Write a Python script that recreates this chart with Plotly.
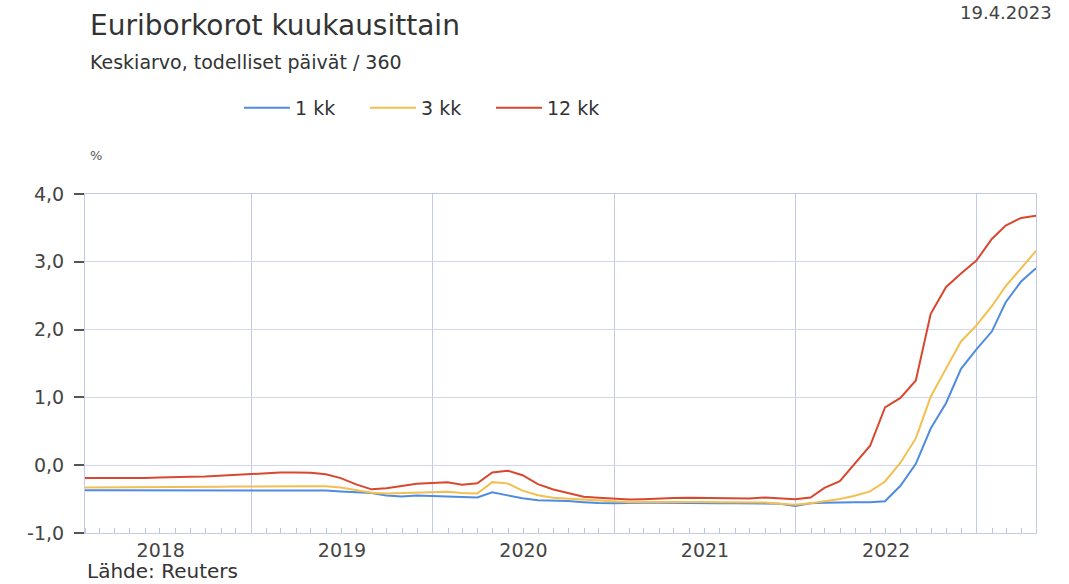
import pandas as pd
import plotly.graph_objects as go

# Monthly averages, Jan 2018 ... Apr 2023 (plotted at month end)
months = pd.date_range("2018-01-31", periods=64, freq="ME")

series_names = ["1 kk", "3 kk", "12 kk"]

euribor_1kk = [
    -0.369, -0.369, -0.370, -0.370, -0.370, -0.370, -0.370, -0.370, -0.370, -0.370, -0.370, -0.367,
    -0.368, -0.368, -0.367, -0.369, -0.373, -0.387, -0.402, -0.409, -0.448, -0.461, -0.448, -0.452,
    -0.456, -0.470, -0.477, -0.401, -0.445, -0.487, -0.517, -0.520, -0.528, -0.545, -0.558, -0.560,
    -0.562, -0.554, -0.553, -0.557, -0.560, -0.556, -0.560, -0.560, -0.561, -0.556, -0.567, -0.600,
    -0.560, -0.554, -0.546, -0.546, -0.546, -0.531, -0.303, 0.021, 0.541, 0.918, 1.422, 1.707,
    1.971, 2.404, 2.711, 2.905,
]
euribor_3kk = [
    -0.328, -0.328, -0.328, -0.328, -0.325, -0.322, -0.321, -0.319, -0.319, -0.318, -0.316, -0.312,
    -0.308, -0.308, -0.309, -0.310, -0.312, -0.330, -0.365, -0.408, -0.418, -0.413, -0.401, -0.395,
    -0.391, -0.409, -0.417, -0.250, -0.268, -0.376, -0.444, -0.480, -0.492, -0.509, -0.521, -0.538,
    -0.547, -0.541, -0.539, -0.538, -0.540, -0.543, -0.545, -0.548, -0.545, -0.550, -0.567, -0.583,
    -0.560, -0.531, -0.500, -0.450, -0.386, -0.240, 0.037, 0.395, 1.011, 1.428, 1.825, 2.063,
    2.345, 2.640, 2.911, 3.160,
]
euribor_12kk = [
    -0.189, -0.191, -0.191, -0.190, -0.188, -0.181, -0.180, -0.169, -0.166, -0.154, -0.147, -0.129,
    -0.116, -0.108, -0.109, -0.112, -0.134, -0.190, -0.283, -0.356, -0.339, -0.304, -0.272, -0.261,
    -0.253, -0.288, -0.266, -0.108, -0.081, -0.147, -0.279, -0.359, -0.415, -0.466, -0.481, -0.497,
    -0.505, -0.501, -0.487, -0.484, -0.481, -0.484, -0.491, -0.498, -0.492, -0.477, -0.487, -0.502,
    -0.477, -0.335, -0.237, 0.013, 0.287, 0.852, 0.992, 1.249, 2.233, 2.629, 2.828, 3.018,
    3.337, 3.534, 3.647, 3.680,
]
series_values = [euribor_1kk, euribor_3kk, euribor_12kk]
series_colors = ["#4f8be0", "#f3bf4f", "#d9472f"]

y_tick_values = [-1, 0, 1, 2, 3, 4]
y_tick_labels = ["-1,0", "0,0", "1,0", "2,0", "3,0", "4,0"]

W, H = 1069, 584
L, R, T, B = 85, 1036, 194, 533
FONT = "DejaVu Sans"

fig = go.Figure()
for name, vals, col in zip(series_names, series_values, series_colors):
    fig.add_trace(go.Scatter(x=months, y=vals, mode="lines", name=name,
                             line=dict(color=col, width=2)))

def px(x):
    return (x - L) / (R - L)

def py(y):
    return (B - y) / (B - T)

annots = [
    dict(text="Euriborkorot kuukausittain", x=px(88), y=py(26), xanchor="left", yanchor="middle",
         font=dict(size=28, color="#333333", family=FONT)),
    dict(text="Keskiarvo, todelliset päivät / 360", x=px(88), y=py(62), xanchor="left", yanchor="middle",
         font=dict(size=19, color="#333333", family=FONT)),
    dict(text="19.4.2023", x=px(1054), y=py(12), xanchor="right", yanchor="middle",
         font=dict(size=18, color="#444444", family=FONT)),
    dict(text="%", x=px(88), y=py(155), xanchor="left", yanchor="middle",
         font=dict(size=13, color="#555555", family=FONT)),
    dict(text="Lähde: Reuters", x=px(85), y=py(571), xanchor="left", yanchor="middle",
         font=dict(size=20, color="#333333", family=FONT)),
]
for a in annots:
    a.update(xref="paper", yref="paper", showarrow=False)

fig.update_layout(
    width=W, height=H,
    margin=dict(l=L, r=W - R, t=T, b=H - B, pad=0),
    paper_bgcolor="white", plot_bgcolor="white",
    separators=", ",
    font=dict(family=FONT, size=17, color="#444444"),
    annotations=annots,
    showlegend=True,
    legend=dict(orientation="h", xref="container", yref="container",
                x=239 / W, y=1 - 108 / H, xanchor="left", yanchor="middle",
                font=dict(size=19, color="#333333", family=FONT),
                itemwidth=46,
                entrywidth=65, entrywidthmode="pixels",
                bgcolor="rgba(0,0,0,0)"),
)
fig.update_xaxes(
    type="date", range=["2018-01-31", "2023-04-30"],
    dtick="M12", tick0="2018-01-01", ticklabelmode="period", tickformat="%Y",
    showgrid=True, gridcolor="#c3c9e6", gridwidth=1,
    ticks="", showline=True, linecolor="#c3c9e6", linewidth=1, mirror=True,
    minor=dict(dtick="M1", ticks="inside", ticklen=5, tickcolor="#bcc3e3", showgrid=False),
    tickfont=dict(size=19, color="#444444"),
    zeroline=False,
)
fig.update_yaxes(
    range=[-1, 4], tickmode="array", tickvals=y_tick_values, ticktext=y_tick_labels,
    showgrid=True, gridcolor="#d3d7ee", gridwidth=1,
    ticks="outside", ticklen=10, tickwidth=2, tickcolor="#555555",
    ticklabelstandoff=6,
    showline=True, linecolor="#c3c9e6", linewidth=1, mirror=True,
    zeroline=False,
    tickfont=dict(size=19, color="#444444"),
)

fig.write_html("out.html", config={"displayModeBar": False},
               post_script="document.body.style.margin='0px';")
